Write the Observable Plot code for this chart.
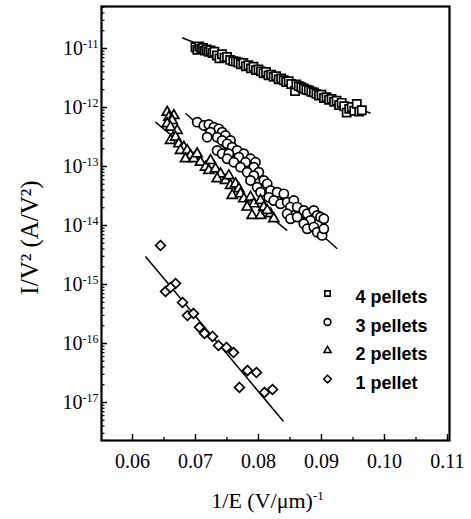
<!DOCTYPE html>
<html><head><meta charset="utf-8">
<script src="https://cdn.jsdelivr.net/npm/d3@7"></script>
<script src="https://cdn.jsdelivr.net/npm/@observablehq/plot@0.6"></script>
<style>
html,body{margin:0;padding:0;background:#fff}
g[aria-label="x-axis tick label"] text, g[aria-label="y-axis tick label"] text {font-family:'Liberation Serif','Times New Roman',serif !important;}
</style>
</head><body><div id="chart"></div>
<script>
// 1/E (V/um)^-1 , I/V^2 (A/V^2)
const pellets4 = [[0.0700,1.05e-11],[0.0703,9.5e-12],[0.0706,1.08e-11],[0.0709,9.8e-12],[0.0712,1.02e-11],[0.0715,9.2e-12],[0.0718,9.6e-12],[0.0721,8.8e-12],[0.0724,9.3e-12],[0.0727,8.4e-12],[0.0730,8.8e-12],[0.0734,7.6e-12],[0.0738,6.8e-12],[0.0742,8.0e-12],[0.0746,7.0e-12],[0.0750,7.2e-12],[0.0755,6.4e-12],[0.0760,6.1e-12],[0.0764,6.0e-12],[0.0768,5.8e-12],[0.0772,5.4e-12],[0.0776,5.7e-12],[0.0780,5.0e-12],[0.0784,5.2e-12],[0.0788,4.6e-12],[0.0792,4.9e-12],[0.0796,4.3e-12],[0.0800,4.4e-12],[0.0804,4.1e-12],[0.0808,3.8e-12],[0.0812,4.0e-12],[0.0816,3.5e-12],[0.0820,3.6e-12],[0.0824,3.3e-12],[0.0828,3.4e-12],[0.0832,3.0e-12],[0.0836,3.1e-12],[0.0840,2.9e-12],[0.0844,2.7e-12],[0.0848,2.8e-12],[0.0852,2.5e-12],[0.0858,1.9e-12],[0.0860,2.45e-12],[0.0864,2.3e-12],[0.0868,2.2e-12],[0.0872,2.1e-12],[0.0876,2.0e-12],[0.0880,1.95e-12],[0.0884,1.85e-12],[0.0888,1.8e-12],[0.0892,1.7e-12],[0.0896,1.6e-12],[0.0900,1.65e-12],[0.0904,1.45e-12],[0.0908,1.5e-12],[0.0912,1.35e-12],[0.0916,1.4e-12],[0.0920,1.25e-12],[0.0924,1.3e-12],[0.0928,1.1e-12],[0.0932,1.2e-12],[0.0936,1.05e-12],[0.0940,8.2e-13],[0.0944,9.5e-13],[0.0948,1.02e-12],[0.0952,8.8e-13],[0.0956,1.15e-12],[0.0960,8.5e-13],[0.0964,9.0e-13]];
const pellets3 = [[0.07027,5.64e-13],[0.07132,4.95e-13],[0.07212,5.15e-13],[0.07291,4.64e-13],[0.07370,4.35e-13],[0.07423,3.82e-13],[0.07238,3.82e-13],[0.07185,3.14e-13],[0.07344,3.14e-13],[0.07476,3.35e-13],[0.07423,2.76e-13],[0.07556,2.76e-13],[0.07503,2.42e-13],[0.07582,2.13e-13],[0.07661,1.87e-13],[0.07767,1.64e-13],[0.07688,1.44e-13],[0.07873,1.35e-13],[0.07794,1.18e-13],[0.07952,1.18e-13],[0.07926,9.75e-14],[0.07344,1.87e-13],[0.07423,1.64e-13],[0.07529,1.64e-13],[0.07503,1.35e-13],[0.07609,1.18e-13],[0.07714,9.75e-14],[0.07820,8.0e-14],[0.08005,8.0e-14],[0.07926,7.0e-14],[0.08085,5.8e-14],[0.07873,5.8e-14],[0.08138,5.08e-14],[0.07979,4.47e-14],[0.08032,3.67e-14],[0.08191,3.92e-14],[0.08296,3.67e-14],[0.08402,3.44e-14],[0.08164,3.0e-14],[0.08243,2.65e-14],[0.08349,2.33e-14],[0.08455,2.48e-14],[0.08561,2.65e-14],[0.08508,2.05e-14],[0.08614,2.05e-14],[0.08455,1.58e-14],[0.08508,1.30e-14],[0.08614,1.39e-14],[0.08720,1.80e-14],[0.08773,1.58e-14],[0.08878,1.80e-14],[0.08931,1.48e-14],[0.08984,1.39e-14],[0.09037,1.30e-14],[0.08825,1.22e-14],[0.08720,1.07e-14],[0.08773,8.8e-15],[0.08878,9.4e-15],[0.08931,7.7e-15],[0.09010,6.8e-15],[0.09037,8.8e-15]];
const pellets2 = [[0.06551,8.3e-13],[0.06577,6.86e-13],[0.06656,7.3e-13],[0.06630,6.0e-13],[0.06551,5.3e-13],[0.06603,4.64e-13],[0.06709,4.07e-13],[0.06603,2.76e-13],[0.06683,3.14e-13],[0.06735,2.42e-13],[0.06815,2.13e-13],[0.06762,1.87e-13],[0.06868,1.87e-13],[0.06921,1.54e-13],[0.06841,1.35e-13],[0.06974,1.35e-13],[0.07026,1.64e-13],[0.07079,1.18e-13],[0.07159,9.75e-14],[0.07238,1.26e-13],[0.07212,8.55e-14],[0.07317,9.1e-14],[0.07397,7.5e-14],[0.07344,6.2e-14],[0.07476,5.8e-14],[0.07529,7.0e-14],[0.07556,4.77e-14],[0.07635,5.08e-14],[0.07688,4.19e-14],[0.07582,3.23e-14],[0.07714,3.44e-14],[0.07767,2.83e-14],[0.07873,3.02e-14],[0.07926,2.33e-14],[0.07820,2.05e-14],[0.08032,2.65e-14],[0.08085,2.05e-14],[0.07899,1.48e-14],[0.08032,1.48e-14],[0.08191,1.58e-14],[0.08243,1.30e-14],[0.08138,1.80e-14]];
const pellets1 = [[0.06444,4.58e-15],[0.06524,7.6e-16],[0.06683,1.04e-15],[0.06603,8.9e-16],[0.06794,4.95e-16],[0.06873,2.98e-16],[0.06968,3.23e-16],[0.07063,1.88e-16],[0.07143,1.48e-16],[0.07270,1.32e-16],[0.07365,9.25e-17],[0.07492,8.55e-17],[0.07603,7.03e-17],[0.07698,1.8e-17],[0.07825,3.48e-17],[0.07968,3.23e-17],[0.08095,1.48e-17],[0.08222,1.66e-17]];
// linear fits (end points)
const fitLines = [
  {x1:0.06789, y1:1.52e-11, x2:0.09778, y2:8.0e-13},
  {x1:0.06841, y1:8.0e-13,  x2:0.0925,  y2:4.03e-15},
  {x1:0.06365, y1:5.64e-13, x2:0.08456, y2:8.2e-15},
  {x1:0.06206, y1:2.99e-15, x2:0.08397, y2:4.76e-18}
];
const seriesNames = ["4 pellets","3 pellets","2 pellets","1 pellet"];
const xTicks = [0.06,0.07,0.08,0.09,0.10,0.11];
const xMinorTicks = [0.065,0.075,0.085,0.095,0.105];
const yTicks = [1e-17,1e-16,1e-15,1e-14,1e-13,1e-12,1e-11];
const xDomain = [0.05508, 0.11032];
const yDomain = [2.27e-18, 5.15e-11];
const xLabel = "1/E (V/\u03bcm)";
const yLabel = "I/V\u00b2 (A/V\u00b2)";

const SERIF = "'Liberation Serif', 'Times New Roman', serif";
const SANS = "'Liberation Sans', Arial, sans-serif";
const W = 471, H = 519, mL = 101, mR = 22, mT = 6, mB = 79;
const plotW = W - mL - mR, plotH = H - mT - mB;
const yMinor = [];
for (let e = -18; e <= -11; e++) for (let m = 2; m <= 9; m++) {
  const v = m * Math.pow(10, e);
  if (v >= yDomain[0] && v <= yDomain[1]) yMinor.push(v);
}
const symbols = ["square2","circle","triangle2","diamond2"];
const sizes = [5.2, 4.6, 4.8, 4.4];
const datasets = [pellets4, pellets3, pellets2, pellets1];

const legendMarks = [];
seriesNames.forEach((name, i) => {
  legendMarks.push(Plot.dot([name], {frameAnchor: "top-left", dx: 226, dy: 287 + i * 28.5, symbol: symbols[i], r: 3.4, stroke: "black", strokeWidth: 1.6, fill: "none"}));
  legendMarks.push(Plot.text([name], {text: d => d, frameAnchor: "top-left", dx: 254, dy: 291 + i * 28.5, textAnchor: "start", lineAnchor: "middle", fontFamily: SANS, fontSize: 18, fontWeight: "bold", fill: "black"}));
});

const chart = Plot.plot({
  width: W, height: H, marginLeft: mL, marginRight: mR, marginTop: mT, marginBottom: mB,
  style: {fontFamily: SERIF, fontSize: "20px", color: "black", background: "white"},
  x: {domain: xDomain},
  y: {type: "log", domain: yDomain},
  marks: [
    Plot.axisX(xTicks, {tickSize: 0, tickPadding: 13, tickFormat: d => d.toFixed(2), fontSize: 20, fontFamily: SERIF, label: null}),
    Plot.axisY(yTicks, {tickSize: 0, tickPadding: 3, tickFormat: d => String(Math.round(Math.log10(d))), fontSize: 20, fontFamily: SERIF, label: null}),
    Plot.tickX(xTicks, {x: d => d, insetTop: plotH - 6, stroke: "black", strokeWidth: 1.5}),
    Plot.tickX(xMinorTicks, {x: d => d, insetTop: plotH - 3, stroke: "black", strokeWidth: 1.3}),
    Plot.tickY(yTicks, {y: d => d, insetRight: plotW - 6, stroke: "black", strokeWidth: 1.5}),
    Plot.tickY(yMinor, {y: d => d, insetRight: plotW - 3.5, stroke: "black", strokeWidth: 1.2}),
    Plot.link(fitLines, {x1: "x1", y1: "y1", x2: "x2", y2: "y2", stroke: "black", strokeWidth: 1.5}),
    ...datasets.map((ds, i) => Plot.dot(ds, {x: d => d[0], y: d => d[1], symbol: () => symbols[i], r: sizes[i], stroke: "black", strokeWidth: 1.7, fill: "white"})),
    Plot.frame({stroke: "black", strokeWidth: 2.2}),
    ...legendMarks,
    Plot.text([xLabel], {text: d => d, frameAnchor: "bottom", dx: -8, dy: 60, textAnchor: "middle", lineAnchor: "middle", fontFamily: SERIF, fontSize: 22, fill: "black"}),
    Plot.text([yLabel], {text: d => d, frameAnchor: "left", dx: -72, dy: 14, rotate: -90, textAnchor: "middle", lineAnchor: "middle", fontFamily: SERIF, fontSize: 25, fill: "black"})
  ]
});
document.getElementById("chart").appendChild(chart);

const NS = "http://www.w3.org/2000/svg";
function addSup(t, base, sup, size) {
  t.textContent = "";
  const a = document.createElementNS(NS, "tspan"); a.textContent = base;
  const b = document.createElementNS(NS, "tspan"); b.textContent = sup;
  b.setAttribute("dy", "-0.55em"); b.setAttribute("font-size", size);
  t.append(a, b);
}
chart.querySelectorAll('[aria-label="y-axis tick label"] text').forEach(t => addSup(t, "10", t.textContent, "12"));
chart.querySelectorAll('text').forEach(t => { if (t.textContent === xLabel) addSup(t, xLabel, "-1", "13"); });
</script>
</body></html>
